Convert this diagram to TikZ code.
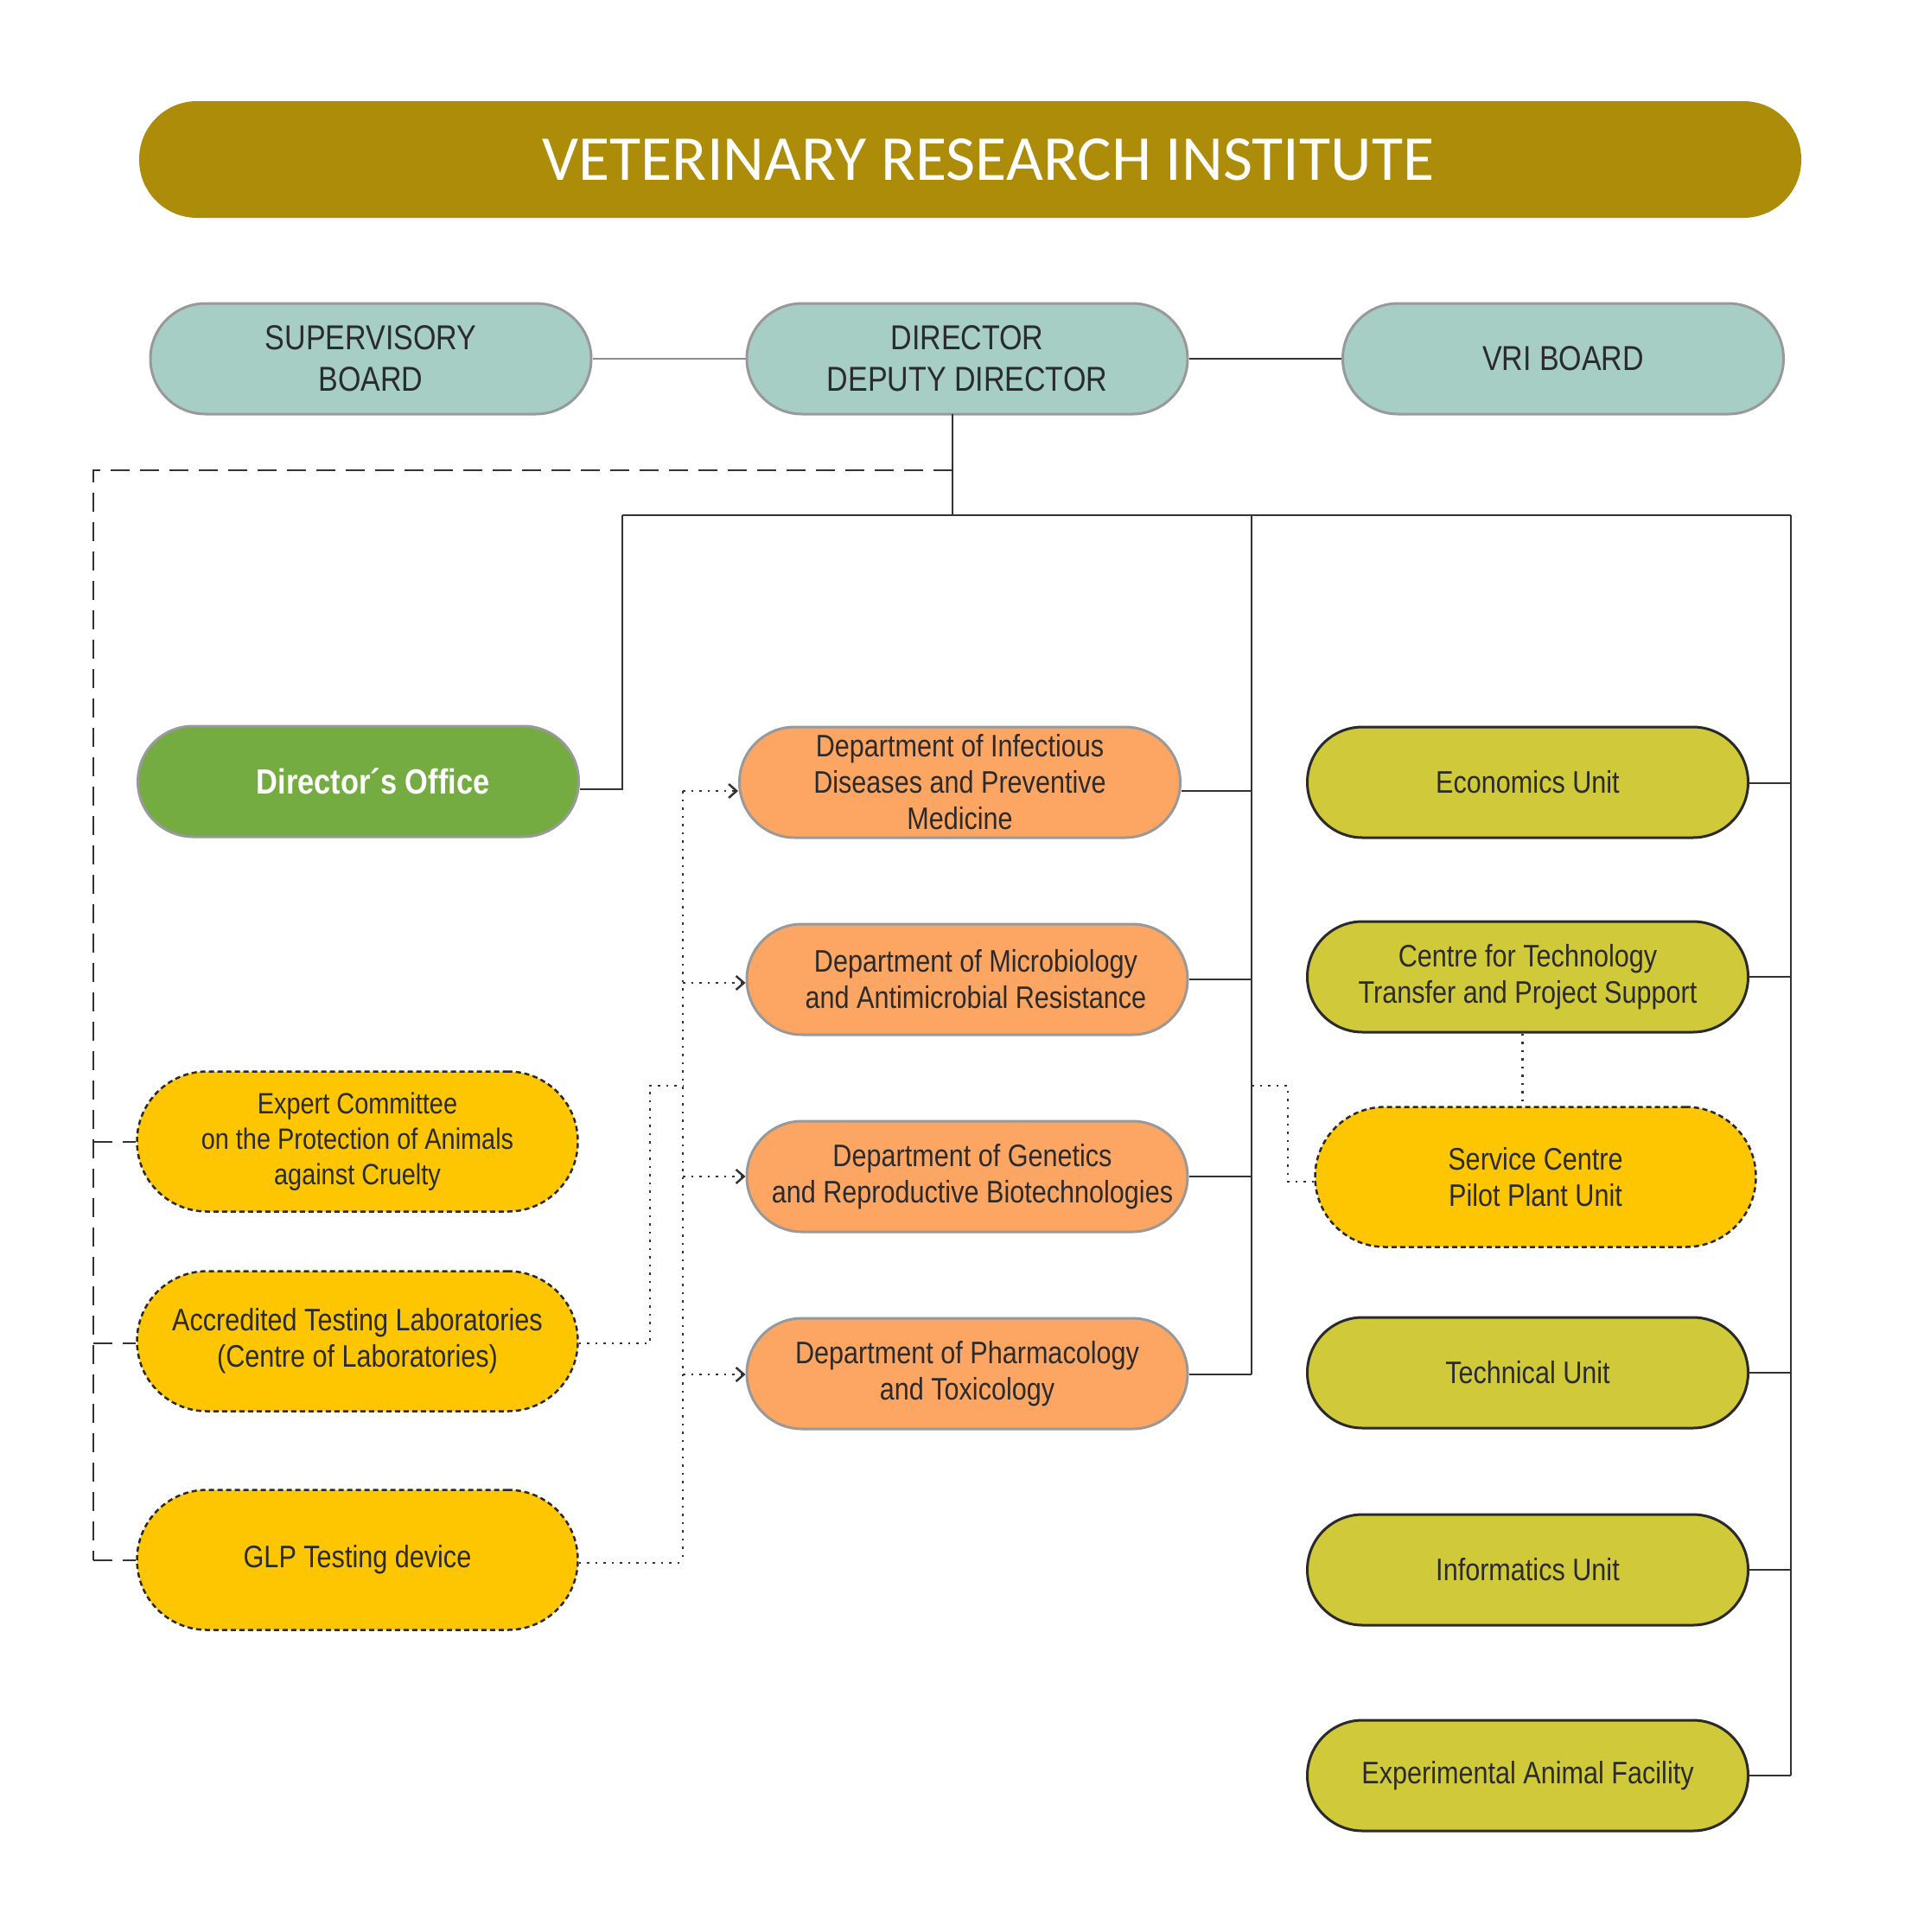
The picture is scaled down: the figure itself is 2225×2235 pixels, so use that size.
\documentclass[tikz,border=0pt]{standalone}
\usepackage{fontspec}
\setmainfont{Liberation Sans}[FakeStretch=0.85]
\newfontfamily\titlefont{Carlito}
\usetikzlibrary{arrows.meta}
\definecolor{titlefill}{HTML}{AD8C0A}
\definecolor{tealbox}{HTML}{A6CEC5}
\definecolor{greenbox}{HTML}{74AC42}
\definecolor{orangebox}{HTML}{FDA664}
\definecolor{ygreenbox}{HTML}{D0CA3B}
\definecolor{yellowbox}{HTML}{FEC501}
\definecolor{txt}{HTML}{2B2B2B}
\definecolor{bordergray}{HTML}{999999}
\definecolor{darkline}{HTML}{2A2A2A}
\definecolor{lineclr}{HTML}{333333}
\definecolor{graylink}{HTML}{8C8C8C}
\tikzset{
  base/.style={rectangle, align=center, inner sep=0pt, minimum width=510pt,
    minimum height=128pt, rounded corners=63.9pt, text=txt,
    font=\fontsize{36}{42}\selectfont},
  topbox/.style={base, fill=tealbox, draw=bordergray, line width=3pt,
    font=\fontsize{40}{48}\selectfont},
  officebox/.style={base, fill=greenbox, draw=bordergray, line width=3pt,
    text=white, font=\bfseries\fontsize{40.5}{46}\selectfont},
  deptbox/.style={base, fill=orangebox, draw=bordergray, line width=3pt},
  unitbox/.style={base, fill=ygreenbox, draw=darkline, line width=3pt},
  svcbox/.style={base, fill=yellowbox, draw=darkline, line width=2.5pt,
    dash pattern=on 6pt off 4pt, minimum height=162pt, rounded corners=80.9pt},
  conn/.style={draw=lineclr, line width=2pt},
  grayconn/.style={draw=graylink, line width=2pt},
  dashconn/.style={draw=lineclr, line width=2.5pt, dash pattern=on 22pt off 12pt},
  dotconn/.style={draw=lineclr, line width=2.5pt, dash pattern=on 2.5pt off 7pt},
  dotarrow/.style={dotconn, -{Straight Barb[length=9pt,width=16pt,line width=2.5pt]}},
}
\begin{document}
\begin{tikzpicture}[x=1pt,y=-1pt]
\useasboundingbox (0,0) rectangle (2225,2235);
\fill[white] (0,0) rectangle (2225,2235);

% title
\node[rectangle, rounded corners=67pt, fill=titlefill, minimum width=1923pt,
  minimum height=135pt, inner sep=0pt, text=white,
  font=\titlefont\fontsize{74}{80}\selectfont] (title) at (1122.5,184.5)
  {\hspace*{42pt}VETERINARY RESEARCH INSTITUTE};

% top row
\node[topbox] (sup) at (429,415) {SUPERVISORY\\BOARD};
\node[topbox] (dir) at (1119,415) {DIRECTOR\\DEPUTY DIRECTOR};
\node[topbox] (vri) at (1808.5,415) {VRI BOARD};

% left column
\node[officebox] (doff) at (414.5,904) {\hspace*{34pt}Director\textasciiacute s Office};
\node[svcbox, font=\fontsize{34}{41}\selectfont] (expc) at (413.5,1320.5)
  {Expert Committee\\on the Protection of Animals\\against Cruelty};
\node[svcbox] (acc) at (413.5,1551.5)
  {Accredited Testing Laboratories\\(Centre of Laboratories)};
\node[svcbox] (glp) at (413.5,1804.5) {GLP Testing device};

% middle column
\node[deptbox] (inf) at (1110.5,905)
  {Department of Infectious\\Diseases and Preventive\\Medicine};
\node[deptbox] (mic) at (1119,1133)
  {\hspace*{20pt}Department of Microbiology\\\hspace*{20pt}and Antimicrobial Resistance};
\node[deptbox] (gen) at (1119,1361)
  {\hspace*{12pt}Department of Genetics\\\hspace*{12pt}and Reproductive Biotechnologies};
\node[deptbox] (pha) at (1119,1589)
  {Department of Pharmacology\\and Toxicology};

% right column
\node[unitbox] (eco) at (1767.5,905) {Economics Unit};
\node[unitbox] (ctt) at (1767.5,1130)
  {Centre for Technology\\Transfer and Project Support};
\node[svcbox] (svc) at (1776.5,1361.5) {Service Centre\\Pilot Plant Unit};
\node[unitbox] (tec) at (1767.5,1588) {Technical Unit};
\node[unitbox] (inf2) at (1767.5,1816) {Informatics Unit};
\node[unitbox] (exf) at (1767.5,2054) {Experimental Animal Facility};

% top row links
\draw[grayconn] (sup.east) -- (dir.west);
\draw[conn] (dir.east) -- (vri.west);

% main tree
\coordinate (dbot) at (1102,479);
\coordinate (hj) at (1102,596);
\coordinate (hl) at (720,596);
\coordinate (hm) at (1448,596);
\coordinate (hr) at (2072,596);
\draw[conn] (dbot) -- (hj);
\draw[conn] (hl) -- (hr);

\coordinate (dofc) at (720,913);
\draw[conn] (hl) -- (dofc) -- (dofc -| doff.east);

\coordinate (m1) at (1448,915);
\coordinate (m2) at (1448,1133);
\coordinate (m3) at (1448,1361);
\coordinate (m4) at (1448,1590);
\draw[conn] (hm) -- (m4);
\draw[conn] (m1) -- (m1 -| inf.east);
\draw[conn] (m2) -- (m2 -| mic.east);
\draw[conn] (m3) -- (m3 -| gen.east);
\draw[conn] (m4) -- (m4 -| pha.east);

\coordinate (r1) at (2072,906);
\coordinate (r2) at (2072,1130);
\coordinate (r3) at (2072,1588);
\coordinate (r4) at (2072,1816);
\coordinate (r5) at (2072,2054);
\draw[conn] (hr) -- (r5);
\draw[conn] (r1) -- (r1 -| eco.east);
\draw[conn] (r2) -- (r2 -| ctt.east);
\draw[conn] (r3) -- (r3 -| tec.east);
\draw[conn] (r4) -- (r4 -| inf2.east);
\draw[conn] (r5) -- (r5 -| exf.east);

% dashed advisory links
\coordinate (dd0) at (1102,544);
\coordinate (dd1) at (108,544);
\coordinate (dd2) at (108,1321);
\coordinate (dd3) at (108,1554);
\coordinate (dd4) at (108,1805);
\draw[dashconn] (dd0) -- (dd1) -- (dd4);
\draw[dashconn] (dd2) -- (dd2 -| expc.west);
\draw[dashconn] (dd3) -- (dd3 -| acc.west);
\draw[dashconn] (dd4) -- (dd4 -| glp.west);

% dotted service links
\coordinate (v1) at (790,915);
\coordinate (v2) at (790,1137);
\coordinate (v3) at (790,1361);
\coordinate (v4) at (790,1590);
\coordinate (v5) at (790,1808);
\coordinate (a1) at (752,1554);
\coordinate (a2) at (752,1256);
\coordinate (a3) at (790,1256);
\draw[dotconn] (v1) -- (v5);
\draw[dotconn] (v5 -| glp.east) -- (v5);
\draw[dotconn] (a1 -| acc.east) -- (a1) -- (a2) -- (a3);
\draw[dotarrow] (v1) -- (v1 -| inf.west);
\draw[dotarrow] (v2) -- (v2 -| mic.west);
\draw[dotarrow] (v3) -- (v3 -| gen.west);
\draw[dotarrow] (v4) -- (v4 -| pha.west);

\coordinate (s1) at (1448,1256);
\coordinate (s2) at (1490,1256);
\coordinate (s3) at (1490,1367);
\draw[dotconn] (s1) -- (s2) -- (s3) -- (s3 -| svc.west);
\draw[dotconn] ([xshift=-6pt]ctt.south) -- ([xshift=-6pt]ctt.south |- svc.north);
\end{tikzpicture}
\end{document}
